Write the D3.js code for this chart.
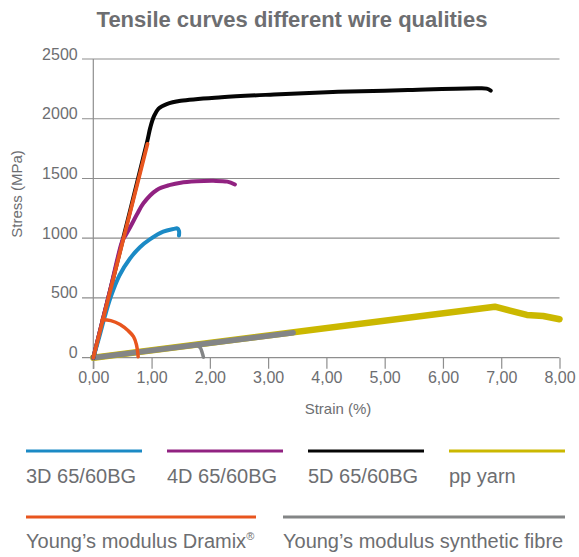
<!DOCTYPE html>
<html>
<head>
<meta charset="utf-8">
<script src="https://cdn.jsdelivr.net/npm/d3@7"></script>
<style>
  html, body { margin: 0; padding: 0; background: #fff; }
  svg { display: block; }
  text { font-family: "Liberation Sans", Arial, Helvetica, sans-serif; fill: #6d6e71; }
</style>
</head>
<body>
<svg id="chart" width="579" height="557"></svg>
<script>
// ---- data ----
const chartTitle = "Tensile curves different wire qualities";
const xAxisTitle = "Strain (%)";
const yAxisTitle = "Stress (MPa)";
const xTicks = [0, 1, 2, 3, 4, 5, 6, 7, 8];
const yTicks = [0, 500, 1000, 1500, 2000, 2500];

const strain3D = [0, 0.1, 0.2, 0.3, 0.45, 0.63, 0.8, 0.97, 1.2, 1.38, 1.44, 1.47, 1.47];
const stress3D = [0, 170, 350, 510, 690, 830, 925, 990, 1055, 1078, 1083, 1062, 1022];

const strain4D = [0, 0.3, 0.5, 0.56, 0.63, 0.75, 0.86, 1.09, 1.32, 1.5, 1.77, 2.06, 2.3, 2.43];
const stress4D = [0, 590, 980, 1030, 1090, 1200, 1293, 1404, 1446, 1465, 1476, 1480, 1474, 1450];

const strain5D = [0, 0.5, 0.92, 0.98, 1.04, 1.12, 1.26, 1.5, 2.2, 3.1, 4.2, 5.4, 6.6, 6.75, 6.82];
const stress5D = [0, 975, 1800, 1930, 2020, 2085, 2122, 2150, 2180, 2203, 2225, 2240, 2255, 2252, 2235];

const strainPP = [0, 6.89, 7.15, 7.44, 7.72, 8.0];
const stressPP = [0, 427, 394, 358, 349, 322];

const strainDramix = [0, 0.93];
const stressDramix = [0, 1790];
const strainDramixArc = [0.15, 0.3, 0.46, 0.6, 0.69, 0.74, 0.77];
const stressDramixArc = [318, 310, 278, 225, 176, 110, 8];

const strainSynth = [0, 3.43];
const stressSynth = [0, 209];
const strainSynthHook = [1.78, 1.84, 1.87, 1.89];
const stressSynthHook = [108, 80, 40, 5];

const legendRow1 = ["3D 65/60BG", "4D 65/60BG", "5D 65/60BG", "pp yarn"];
const legendRow2 = ["Young’s modulus Dramix", "Young’s modulus synthetic fibre"];

// ---- drawing ----
const svg = d3.select("#chart");
const x = d3.scaleLinear().domain([0, 8]).range([93.3, 559.5]);
const y = d3.scaleLinear().domain([0, 2500]).range([357.7, 59]);

const C = {
  blue: "#1b8ac5", purple: "#912281", black: "#050505",
  yellow: "#cbb800", orange: "#e8551e", gray: "#838586",
  grid: "#8e8e8e"
};

// title
svg.append("text").attr("x", 292).attr("y", 27)
  .attr("text-anchor", "middle").attr("font-size", 22).attr("font-weight", "bold")
  .text(chartTitle);

// gridlines
svg.append("g").selectAll("line").data(yTicks).join("line")
  .attr("x1", 82).attr("x2", x(8))
  .attr("y1", d => y(d)).attr("y2", d => y(d))
  .attr("stroke", C.grid).attr("stroke-width", 1.2);

// y labels
svg.append("g").selectAll("text").data(yTicks).join("text")
  .attr("x", 77.7).attr("y", d => y(d) + 0.5)
  .attr("text-anchor", "end").attr("font-size", 16)
  .text(d => d);

// y axis vertical
svg.append("line").attr("x1", x(0)).attr("x2", x(0)).attr("y1", y(2500)).attr("y2", 369)
  .attr("stroke", C.grid).attr("stroke-width", 1.2);

// x axis
const fmt = v => d3.format(".2f")(v).replace(".", ",");
const xAxis = d3.axisBottom(x).tickValues(xTicks).tickSize(11).tickPadding(3).tickFormat(fmt);
const gx = svg.append("g").attr("transform", `translate(0,${y(0)})`).call(xAxis);
gx.select(".domain").remove();
gx.selectAll(".tick line").attr("stroke", C.grid).attr("stroke-width", 1.2);
gx.selectAll(".tick text").attr("font-size", 16).attr("font-family", null).attr("fill", "#6d6e71")
  .attr("dy", null).attr("y", 25.6);

// axis titles
svg.append("text").attr("x", 338).attr("y", 414).attr("text-anchor", "middle")
  .attr("font-size", 15).text(xAxisTitle);
svg.append("text").attr("transform", "translate(22,194) rotate(-90)")
  .attr("text-anchor", "middle").attr("font-size", 15).text(yAxisTitle);

// curves
function curve(xs, ys, color, width, crv) {
  const pts = xs.map((v, i) => [v, ys[i]]);
  svg.append("path").datum(pts)
    .attr("d", d3.line().x(d => x(d[0])).y(d => y(d[1])).curve(crv || d3.curveCatmullRom.alpha(0.5)))
    .attr("fill", "none").attr("stroke", color).attr("stroke-width", width)
    .attr("stroke-linecap", "round").attr("stroke-linejoin", "round");
}
curve(strainPP, stressPP, C.yellow, 6.5, d3.curveLinear);
curve(strainSynth, stressSynth, C.gray, 5.5, d3.curveLinear);
curve(strainSynthHook, stressSynthHook, C.gray, 3.5);
curve(strain5D, stress5D, C.black, 4);
curve(strain4D, stress4D, C.purple, 4);
curve(strain3D, stress3D, C.blue, 4);
curve(strainDramix, stressDramix, C.orange, 3.8, d3.curveLinear);
curve(strainDramixArc, stressDramixArc, C.orange, 3.5);

// legend
const row1Colors = [C.blue, C.purple, C.black, C.yellow];
const row1X = [26, 167, 308, 449];
const lg1 = svg.append("g");
lg1.selectAll("line").data(legendRow1).join("line")
  .attr("x1", (d, i) => row1X[i]).attr("x2", (d, i) => row1X[i] + 116)
  .attr("y1", 451).attr("y2", 451)
  .attr("stroke", (d, i) => row1Colors[i]).attr("stroke-width", 3);
lg1.selectAll("text").data(legendRow1).join("text")
  .attr("x", (d, i) => row1X[i]).attr("y", 483)
  .attr("font-size", 20).text(d => d);

const row2Colors = [C.orange, C.gray];
const row2X = [26, 283];
const row2W = [230, 282];
const lg2 = svg.append("g");
lg2.selectAll("line").data(legendRow2).join("line")
  .attr("x1", (d, i) => row2X[i]).attr("x2", (d, i) => row2X[i] + row2W[i])
  .attr("y1", 517).attr("y2", 517)
  .attr("stroke", (d, i) => row2Colors[i]).attr("stroke-width", 3);
const t2 = lg2.selectAll("text").data(legendRow2).join("text")
  .attr("x", (d, i) => row2X[i]).attr("y", 548)
  .attr("font-size", 20).text(d => d);
t2.filter((d, i) => i === 0).append("tspan")
  .attr("font-size", 11).attr("dy", -8).text("®");
</script>
</body>
</html>
